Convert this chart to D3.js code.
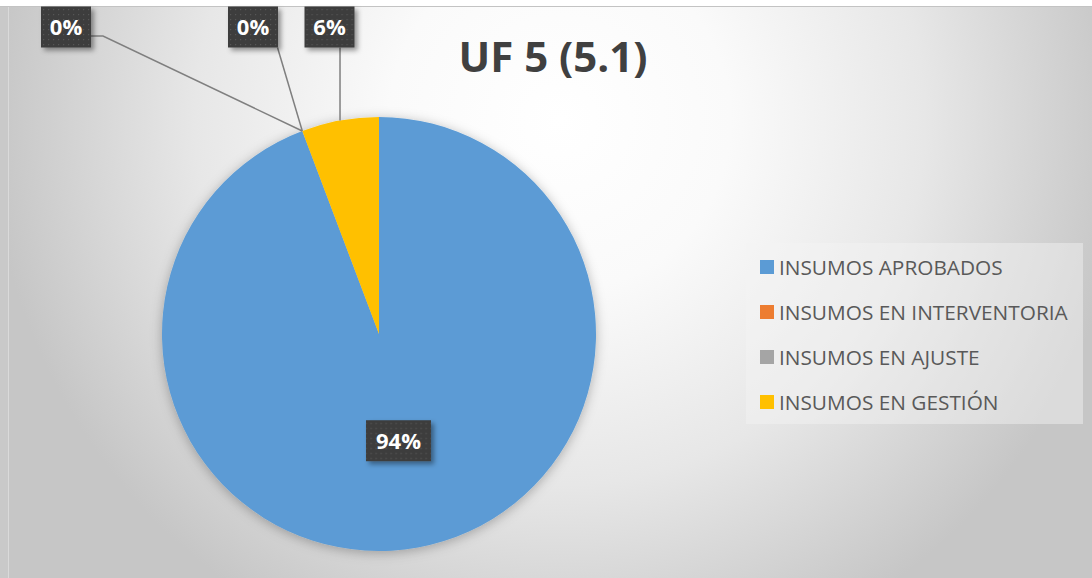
<!DOCTYPE html>
<html>
<head>
<meta charset="utf-8">
<script src="https://cdn.jsdelivr.net/npm/d3@7"></script>
<style>
  html, body { margin: 0; padding: 0; background: #ffffff; }
  svg { display: block; }
</style>
</head>
<body>
<svg id="chart" width="1092" height="578"></svg>
<script>
// Chart content
const title = "UF 5 (5.1)";
const categories = [
  "INSUMOS APROBADOS",
  "INSUMOS EN INTERVENTORIA",
  "INSUMOS EN AJUSTE",
  "INSUMOS EN GESTIÓN"
];
const values = [94.25, 0, 0, 5.75];
const colors = ["#5B9BD5", "#ED7D31", "#A5A5A5", "#FFC000"];

// Layout
const W = 1092, H = 578;
const cx = 379, cy = 334, radius = 217;
// Callout boxes for the data labels (centre of each box); null = placed inside the slice
const labelBoxes = [null, {x: 66, y: 27}, {x: 253, y: 27}, {x: 329.5, y: 27}];

const svg = d3.select("#chart");
const defs = svg.append("defs");

// Chart-area background: soft radial fade from white to grey
const bg = defs.append("radialGradient")
  .attr("id", "bgGrad")
  .attr("gradientUnits", "userSpaceOnUse")
  .attr("cx", 560).attr("cy", 120).attr("r", 570);
[[0, "#ffffff"], [0.3, "#fafafa"], [0.64, "#e7e7e7"], [1, "#c6c6c6"]]
  .forEach(([o, c]) => bg.append("stop").attr("offset", o).attr("stop-color", c));

// Dotted texture for the dark label boxes
const pat = defs.append("pattern")
  .attr("id", "dots").attr("patternUnits", "userSpaceOnUse")
  .attr("width", 5).attr("height", 5);
pat.append("rect").attr("width", 5).attr("height", 5).attr("fill", "#3d3d3d");
pat.append("rect").attr("x", 2).attr("y", 2).attr("width", 1.2).attr("height", 1.2).attr("fill", "#565656");

const pieShadow = defs.append("filter").attr("id", "pieShadow")
  .attr("x", "-20%").attr("y", "-20%").attr("width", "140%").attr("height", "140%");
pieShadow.append("feDropShadow").attr("dx", 0).attr("dy", 2)
  .attr("stdDeviation", 6).attr("flood-color", "#000").attr("flood-opacity", 0.28);

const boxShadow = defs.append("filter").attr("id", "boxShadow")
  .attr("x", "-30%").attr("y", "-30%").attr("width", "170%").attr("height", "170%");
boxShadow.append("feDropShadow").attr("dx", 3).attr("dy", 3)
  .attr("stdDeviation", 2.5).attr("flood-color", "#000").attr("flood-opacity", 0.4);

// Background
svg.append("rect").attr("x", 0).attr("y", 6).attr("width", W).attr("height", H - 6)
  .attr("fill", "url(#bgGrad)");
svg.append("rect").attr("x", 0).attr("y", 6).attr("width", 8).attr("height", H - 6)
  .attr("fill", "#c9c9c9");
svg.append("line").attr("x1", 8.5).attr("x2", 8.5).attr("y1", 6).attr("y2", H)
  .attr("stroke", "#dadada").attr("stroke-width", 1);
svg.append("line").attr("x1", 0).attr("x2", W).attr("y1", 6.5).attr("y2", 6.5)
  .attr("stroke", "#c3c3c3").attr("stroke-width", 1);

// Pie
const pie = d3.pie().sort(null).value(d => d)(values);
const arc = d3.arc().innerRadius(0).outerRadius(radius);

const pieG = svg.append("g").attr("transform", `translate(${cx},${cy})`);
pieG.append("g").attr("filter", "url(#pieShadow)")
  .selectAll("path").data(pie).join("path")
  .attr("d", arc)
  .attr("fill", (d, i) => colors[i]);

// Title
svg.append("text")
  .attr("x", 553).attr("y", 72)
  .attr("text-anchor", "middle")
  .attr("font-family", "'Open Sans', 'Noto Sans', sans-serif")
  .attr("font-weight", "bold")
  .attr("font-size", 42)
  .attr("fill", "#404040")
  .text(title);

// Data labels
const fmt = v => Math.round(v) + "%";
const labelG = svg.append("g");
const boxW = t => t.length * 15 + 20;
const boxH = 41;

pie.forEach((d, i) => {
  const text = fmt(values[i]);
  const mid = (d.startAngle + d.endAngle) / 2;
  const w = boxW(text);
  let bx, by;
  if (labelBoxes[i] === null) {
    // inside the slice, halfway out along the mid-angle
    bx = cx + Math.sin(mid) * radius * 0.5;
    by = cy - Math.cos(mid) * radius * 0.5;
  } else {
    bx = labelBoxes[i].x;
    by = labelBoxes[i].y;
    // leader line from the slice edge to the box
    const ax = cx + Math.sin(mid) * radius;
    const ay = cy - Math.cos(mid) * radius;
    let pts;
    if (ax > bx + w / 2 + 60) {
      pts = [[bx + w / 2, by + 9], [bx + w / 2 + 12, by + 9], [ax, ay]];
    } else if (Math.abs(ax - bx) < w / 2) {
      pts = [[ax, by + boxH / 2], [ax, ay]];
    } else {
      pts = [[bx + w / 2 - 0.5, by + boxH / 2], [ax, ay]];
    }
    labelG.append("path")
      .attr("d", d3.line()(pts))
      .attr("fill", "none")
      .attr("stroke", "#7f7f7f")
      .attr("stroke-width", 1.5);
  }
  const g = labelG.append("g").attr("transform", `translate(${bx},${by})`);
  g.append("rect")
    .attr("x", -w / 2).attr("y", -boxH / 2)
    .attr("width", w).attr("height", boxH)
    .attr("fill", "url(#dots)")
    .attr("filter", "url(#boxShadow)");
  g.append("text")
    .attr("text-anchor", "middle")
    .attr("dy", "0.36em")
    .attr("font-family", "'Open Sans', 'Noto Sans', sans-serif")
    .attr("font-weight", "bold")
    .attr("font-size", 22)
    .attr("fill", "#ffffff")
    .text(text);
});

// Legend
const legend = svg.append("g");
legend.append("rect")
  .attr("x", 746).attr("y", 243).attr("width", 337).attr("height", 181)
  .attr("fill", "#f4f4f4").attr("fill-opacity", 0.45);

const rowY = d3.scalePoint().domain(categories).range([267, 402]);
const item = legend.selectAll("g.item").data(categories).join("g")
  .attr("class", "item")
  .attr("transform", d => `translate(760,${rowY(d)})`);
item.append("rect")
  .attr("x", 0).attr("y", -7).attr("width", 14).attr("height", 14)
  .attr("fill", (d, i) => colors[i]);
item.append("text")
  .attr("x", 19).attr("dy", "0.36em")
  .attr("font-family", "'Open Sans', 'Noto Sans', sans-serif")
  .attr("font-size", 20.8)
  .attr("fill", "#595959")
  .text(d => d);
</script>
</body>
</html>
